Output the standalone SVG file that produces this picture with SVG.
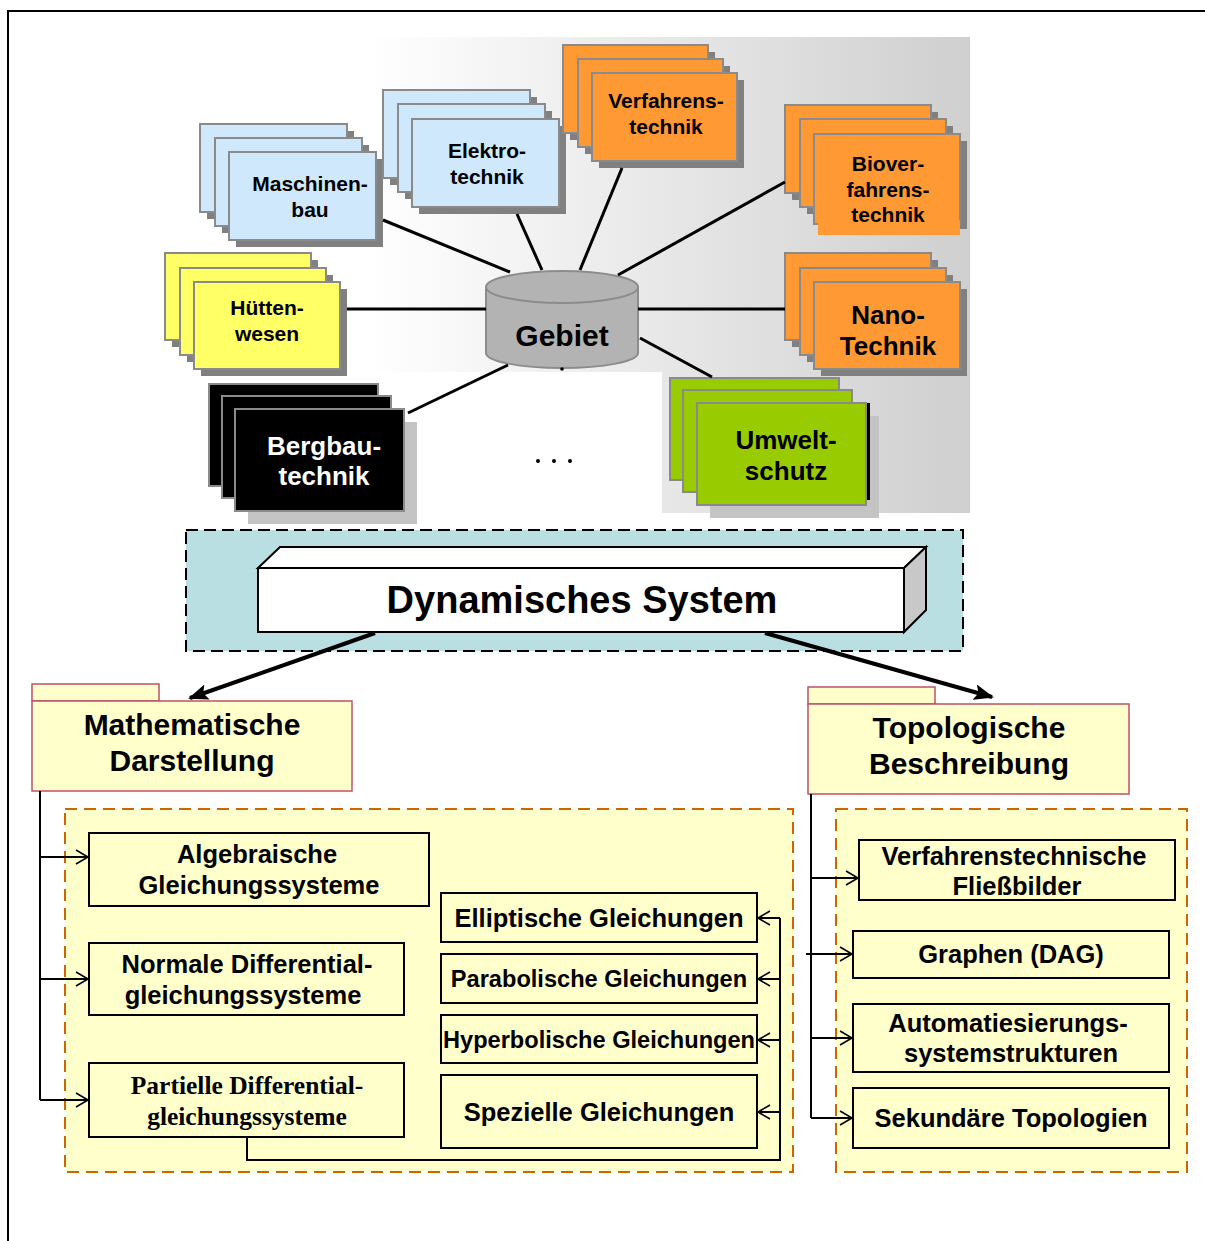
<svg xmlns="http://www.w3.org/2000/svg" width="1205" height="1241" viewBox="0 0 1205 1241">
<defs>
<linearGradient id="bg" x1="370" y1="0" x2="970" y2="0" gradientUnits="userSpaceOnUse">
<stop offset="0" stop-color="#ffffff"/><stop offset="1" stop-color="#cfcfcf"/>
</linearGradient>
<marker id="fa" markerUnits="userSpaceOnUse" markerWidth="20" markerHeight="16" refX="18" refY="8" orient="auto" viewBox="0 0 20 16">
<path d="M0,0 L20,8 L0,16 L4,8 z" fill="#000"/>
</marker>
<marker id="oa" markerUnits="userSpaceOnUse" markerWidth="16" markerHeight="16" refX="14" refY="8" orient="auto" viewBox="0 0 16 16">
<path d="M2,1 L14,8 L2,15" fill="none" stroke="#000" stroke-width="1.6"/>
</marker>
</defs>
<style>
text{font-family:"Liberation Sans",Arial,sans-serif;font-weight:bold;text-anchor:middle;fill:#000}
.sh{fill:#808080}
.lsh{fill:#c4c4c4}
.blue{fill:#cfe8fc;stroke:#8a8a8a;stroke-width:2}
.org{fill:#ff9933;stroke:#8a8a8a;stroke-width:2}
.yel{fill:#ffff66;stroke:#8a8a8a;stroke-width:2}
.blk{fill:#000;stroke:#8a8a8a;stroke-width:2}
.grn{fill:#99cc00;stroke:#8a8a8a;stroke-width:2}
.c19{font-size:21px}
.c23{font-size:26px}
.box{fill:#ffffcc;stroke:#000;stroke-width:2}
.fold{fill:#ffffcc;stroke:#c0506a;stroke-width:1.5}
.cont{fill:#ffffcc;stroke:#cc6600;stroke-width:2;stroke-dasharray:12,7}
.t22{font-size:25.5px}
.t21{font-size:23.6px}
.t28{font-size:30px}
.ln{stroke:#000;stroke-width:3;fill:none}
.cn{stroke:#000;stroke-width:2;fill:none}
.serif{font-family:"Liberation Serif","Times New Roman",serif}
</style>
<rect width="1205" height="1241" fill="#fff"/>
<path d="M7,11 H1205 M8,11 V1241" stroke="#000" stroke-width="2" fill="none"/>
<path d="M370,37 H970 V513 H662 V372 H370 Z" fill="url(#bg)"/>

<g id="math-container"><rect class="cont" x="65" y="809" width="728" height="363"/></g>
<g id="topo-container"><rect class="cont" x="836" y="809" width="351" height="363"/></g>

<g id="maschinenbau">
<rect class="sh" x="207" y="131" width="147" height="88"/><rect class="blue" x="200" y="124" width="147" height="88"/>
<rect class="sh" x="222" y="145" width="147" height="88"/><rect class="blue" x="215" y="138" width="147" height="88"/>
<rect class="sh" x="236" y="159" width="147" height="88"/><rect class="blue" x="229" y="152" width="147" height="88"/>
<text class="c19" x="310" y="191">Maschinen-</text><text class="c19" x="310" y="217">bau</text>
</g>
<g id="elektrotechnik">
<rect class="sh" x="390" y="97" width="147" height="88"/><rect class="blue" x="383" y="90" width="147" height="88"/>
<rect class="sh" x="405" y="111" width="147" height="88"/><rect class="blue" x="398" y="104" width="147" height="88"/>
<rect class="sh" x="419" y="126" width="147" height="88"/><rect class="blue" x="412" y="119" width="147" height="88"/>
<text class="c19" x="487" y="158">Elektro-</text><text class="c19" x="487" y="184">technik</text>
</g>
<g id="verfahrenstechnik">
<rect class="sh" x="570" y="52" width="145" height="88"/><rect class="org" x="563" y="45" width="145" height="88"/>
<rect class="sh" x="585" y="66" width="145" height="88"/><rect class="org" x="578" y="59" width="145" height="88"/>
<rect class="sh" x="599" y="80" width="145" height="88"/><rect class="org" x="592" y="73" width="145" height="88"/>
<text class="c19" x="666" y="108">Verfahrens-</text><text class="c19" x="666" y="134">technik</text>
</g>
<g id="bioverfahrenstechnik">
<rect class="sh" x="792" y="112" width="146" height="88"/><rect class="org" x="785" y="105" width="146" height="88"/>
<rect class="sh" x="807" y="126" width="146" height="88"/><rect class="org" x="800" y="119" width="146" height="88"/>
<rect class="sh" x="821" y="141" width="146" height="88"/><rect class="org" x="814" y="134" width="146" height="90"/>
<rect x="818" y="220" width="142" height="15" fill="#ff9933"/>
<text class="c19" x="888" y="171">Biover-</text><text class="c19" x="888" y="197">fahrens-</text><text class="c19" x="888" y="222">technik</text>
</g>
<g id="nanotechnik">
<rect class="sh" x="792" y="260" width="146" height="87"/><rect class="org" x="785" y="253" width="146" height="87"/>
<rect class="sh" x="807" y="275" width="146" height="87"/><rect class="org" x="800" y="268" width="146" height="87"/>
<rect class="sh" x="821" y="289" width="146" height="87"/><rect class="org" x="814" y="282" width="146" height="87"/>
<text class="c23" x="888" y="324">Nano-</text><text class="c23" x="888" y="355">Technik</text>
</g>
<g id="huettenwesen">
<rect class="sh" x="172" y="260" width="146" height="87"/><rect class="yel" x="165" y="253" width="146" height="87"/>
<rect class="sh" x="187" y="275" width="146" height="87"/><rect class="yel" x="180" y="268" width="146" height="87"/>
<rect class="sh" x="201" y="289" width="146" height="87"/><rect class="yel" x="194" y="282" width="146" height="87"/>
<text class="c19" x="267" y="315">Hütten-</text><text class="c19" x="267" y="341">wesen</text>
</g>
<g id="bergbautechnik">
<rect class="blk" x="209" y="384" width="169" height="102"/>
<rect class="blk" x="222" y="396" width="169" height="102"/>
<rect class="lsh" x="248" y="422" width="169" height="102"/>
<rect class="blk" x="235" y="409" width="169" height="102"/>
<text class="c23" x="324" y="455" style="fill:#fff">Bergbau-</text><text class="c23" x="324" y="485" style="fill:#fff">technik</text>
</g>
<g id="umweltschutz">
<rect class="grn" x="670" y="378" width="169" height="102"/>
<rect class="grn" x="683" y="390" width="169" height="102"/>
<rect class="lsh" x="710" y="416" width="169" height="102"/>
<rect x="866" y="403" width="4" height="97" fill="#000"/>
<rect class="grn" x="697" y="403" width="169" height="102"/>
<text class="c23" x="786" y="449">Umwelt-</text><text class="c23" x="786" y="480">schutz</text>
</g>
<g id="gebiet">
<path d="M486,287 L486,353 A76,15 0 0 0 638,353 L638,287 A76,16 0 0 0 486,287 Z" fill="#b3b3b3" stroke="#8c8c8c" stroke-width="2"/>
<path d="M486,287 A76,16 0 0 0 638,287" fill="none" stroke="#8c8c8c" stroke-width="2"/>
<circle cx="562" cy="369" r="1.8" fill="#000"/>
<text x="562" y="346" style="font-size:30px">Gebiet</text>
</g>
<g id="ellipsis">
<circle cx="538" cy="461" r="2" fill="#000"/><circle cx="554" cy="461" r="2" fill="#000"/><circle cx="570" cy="461" r="2" fill="#000"/>
</g>

<g id="dynamisches-system">
<rect x="186" y="530" width="777" height="121" fill="#b9dfe3" stroke="#000" stroke-width="2" stroke-dasharray="12,6"/>
<path d="M258,568 L280,547 H926 L904,568 Z" fill="#fff" stroke="#000" stroke-width="2"/>
<path d="M904,568 L926,547 V610 L904,632 Z" fill="#c8c8c8" stroke="#000" stroke-width="2"/>
<rect x="258" y="568" width="646" height="64" fill="#fff" stroke="#000" stroke-width="2"/>
<text x="582" y="613" style="font-size:38px">Dynamisches System</text>
</g>

<g id="mathematische-darstellung">
<rect class="fold" x="32" y="684" width="127" height="17"/>
<rect class="fold" x="32" y="701" width="320" height="90"/>
<text class="t28" x="192" y="735">Mathematische</text><text class="t28" x="192" y="771">Darstellung</text>
</g>
<g id="topologische-beschreibung">
<rect class="fold" x="808" y="687" width="127" height="17"/>
<rect class="fold" x="808" y="704" width="321" height="90"/>
<text class="t28" x="969" y="738">Topologische</text><text class="t28" x="969" y="774">Beschreibung</text>
</g>

<g id="algebraische"><rect class="box" x="89" y="833" width="340" height="73"/>
<text class="t22" x="257" y="863">Algebraische</text><text class="t22" x="259" y="894">Gleichungssysteme</text></g>
<g id="normale"><rect class="box" x="89" y="943" width="315" height="72"/>
<text class="t22" x="247" y="973">Normale Differential-</text><text class="t22" x="243" y="1004">gleichungssysteme</text></g>
<g id="partielle"><rect class="box" x="89" y="1063" width="315" height="74"/>
<text class="t22 serif" x="247" y="1094">Partielle Differential-</text><text class="t22 serif" x="247" y="1125">gleichungssysteme</text></g>
<g id="elliptische"><rect class="box" x="441" y="893" width="316" height="49"/>
<text class="t22" x="599" y="927">Elliptische Gleichungen</text></g>
<g id="parabolische"><rect class="box" x="441" y="954" width="316" height="49"/>
<text class="t21" x="599" y="987">Parabolische Gleichungen</text></g>
<g id="hyperbolische"><rect class="box" x="441" y="1015" width="316" height="48"/>
<text class="t21" x="599" y="1048">Hyperbolische Gleichungen</text></g>
<g id="spezielle"><rect class="box" x="441" y="1075" width="316" height="73"/>
<text class="t22" x="599" y="1121">Spezielle Gleichungen</text></g>

<g id="fliessbilder"><rect class="box" x="859" y="840" width="316" height="60"/>
<text class="t22" x="1014" y="865">Verfahrenstechnische</text><text class="t22" x="1017" y="895">Fließbilder</text></g>
<g id="graphen"><rect class="box" x="853" y="931" width="316" height="47"/>
<text class="t22" x="1011" y="963">Graphen (DAG)</text></g>
<g id="automatisierung"><rect class="box" x="853" y="1004" width="316" height="68"/>
<text class="t22" x="1008" y="1032">Automatiesierungs-</text><text class="t22" x="1011" y="1062">systemstrukturen</text></g>
<g id="sekundaer"><rect class="box" x="853" y="1088" width="316" height="60"/>
<text class="t22" x="1011" y="1127">Sekundäre Topologien</text></g>

<g id="connectors">
<path class="ln" d="M383,220 L510,272"/>
<path class="ln" d="M517,214 L542,270"/>
<path class="ln" d="M622,168 L580,270"/>
<path class="ln" d="M785,182 L618,275"/>
<path class="ln" d="M347,309 L486,309"/>
<path class="ln" d="M638,309 L785,309"/>
<path class="ln" d="M408,413 L508,365"/>
<path class="ln" d="M640,338 L712,377"/>
<path d="M375,633 L190,698" stroke="#000" stroke-width="4" fill="none" marker-end="url(#fa)"/>
<path d="M765,633 L992,697" stroke="#000" stroke-width="4" fill="none" marker-end="url(#fa)"/>
<path class="cn" d="M40,791 V1100"/>
<path class="cn" d="M40,857 H88" marker-end="url(#oa)"/>
<path class="cn" d="M40,979 H88" marker-end="url(#oa)"/>
<path class="cn" d="M40,1100 H88" marker-end="url(#oa)"/>
<path class="cn" d="M247,1137 V1160 H780 V918"/>
<path class="cn" d="M780,918 H758" marker-end="url(#oa)"/>
<path class="cn" d="M780,979 H758" marker-end="url(#oa)"/>
<path class="cn" d="M780,1040 H758" marker-end="url(#oa)"/>
<path class="cn" d="M780,1112 H758" marker-end="url(#oa)"/>
<path class="cn" d="M811,794 V1118"/>
<path class="cn" d="M811,878 H858" marker-end="url(#oa)"/>
<path class="cn" d="M806,954 H852" marker-end="url(#oa)"/>
<path class="cn" d="M811,1038 H852" marker-end="url(#oa)"/>
<path class="cn" d="M811,1118 H852" marker-end="url(#oa)"/>
</g>
</svg>
